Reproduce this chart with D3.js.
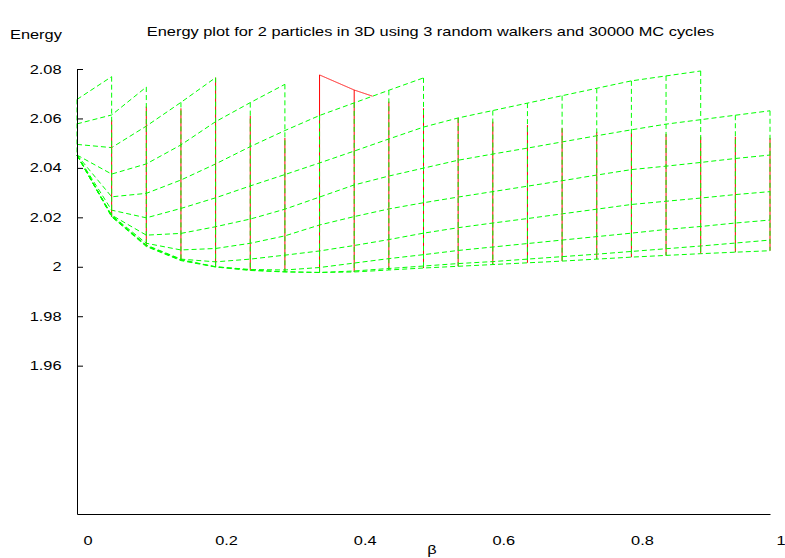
<!DOCTYPE html>
<html>
<head>
<meta charset="utf-8">
<script src="https://cdn.jsdelivr.net/npm/d3@7"></script>
<style>
  body { margin: 0; background: #fff; }
  svg { display: block; }
  text { font-family: "Liberation Sans", Arial, Helvetica, sans-serif; font-size: 13px; fill: #000; }
</style>
</head>
<body>
<svg id="chart" width="785" height="558"></svg>
<script>
// beta grid (x direction of the surface)
const betaValues = [0, 0.05, 0.1, 0.15, 0.2, 0.25, 0.3, 0.35, 0.4, 0.45, 0.5,
                    0.55, 0.6, 0.65, 0.7, 0.75, 0.8, 0.85, 0.9, 0.95, 1];

// energy along beta, one row per alpha value; null = above the plotted z range
const row1  = [2.0677, 2.0769, null, null, null, null, null, null, null, null, null,
               null, null, null, null, null, null, null, null, null, null];
const row2  = [2.0578, 2.0614, 2.0727, null, null, null, null, null, null, null, null,
               null, null, null, null, null, null, null, null, null, null];
const row3  = [2.0495, 2.0482, 2.0569, 2.0665, 2.0765, null, null, null, null, null, null,
               null, null, null, null, null, null, null, null, null, null];
const row4  = [2.0452, 2.0375, 2.0416, 2.0493, 2.0587, 2.0664, 2.0738, null, null, null, null,
               null, null, null, null, null, null, null, null, null, null];
const row5  = [2.0452, 2.0283, 2.0297, 2.0351, 2.0416, 2.0486, 2.0551, 2.0612, 2.0663, 2.0714, 2.0764,
               null, null, null, null, null, null, null, null, null, null];
const row6  = [2.0452, 2.0229, 2.0198, 2.0236, 2.0279, 2.0327, 2.0373, 2.0420, 2.0468, 2.0517, 2.0565,
               2.0602, 2.0632, 2.0662, 2.0692, 2.0722, 2.0752, 2.0772, 2.0792, null, null];
const row7  = [2.0452, 2.0209, 2.0128, 2.0135, 2.0162, 2.0193, 2.0233, 2.0282, 2.0331, 2.0367, 2.0399,
               2.0431, 2.0456, 2.0480, 2.0505, 2.0530, 2.0554, 2.0577, 2.0595, 2.0613, 2.0631];
const row8  = [2.0452, 2.0208, 2.0095, 2.0068, 2.0074, 2.0095, 2.0125, 2.0169, 2.0203, 2.0234, 2.0259,
               2.0282, 2.0304, 2.0326, 2.0348, 2.0371, 2.0393, 2.0407, 2.0422, 2.0438, 2.0452];
const row9  = [2.0452, 2.0207, 2.0088, 2.0031, 2.0020, 2.0031, 2.0047, 2.0064, 2.0086, 2.0110, 2.0136,
               2.0158, 2.0177, 2.0195, 2.0214, 2.0233, 2.0252, 2.0265, 2.0278, 2.0292, 2.0304];
const row10 = [2.0452, 2.0205, 2.0086, 2.0029, 2.0000, 1.9989, 1.9987, 1.9997, 2.0015, 2.0033, 2.0049,
               2.0066, 2.0080, 2.0094, 2.0108, 2.0122, 2.0136, 2.0151, 2.0163, 2.0177, 2.0189];
const row11 = [2.0452, 2.0203, 2.0084, 2.0027, 2.0000, 1.9987, 1.9980, 1.9977, 1.9983, 1.9993, 2.0003,
               2.0013, 2.0021, 2.0031, 2.0041, 2.0051, 2.0062, 2.0073, 2.0084, 2.0096, 2.0108];
const row12 = [2.0452, 2.0202, 2.0082, 2.0025, 1.9999, 1.9985, 1.9979, 1.9977, 1.9979, 1.9987, 1.9995,
               2.0002, 2.0009, 2.0016, 2.0023, 2.0031, 2.0039, 2.0046, 2.0053, 2.0059, 2.0065];
const surfaceRows = [row1, row2, row3, row4, row5, row6, row7, row8, row9, row10, row11, row12];

// upper-side surface line (solid) and the top of its cross lines at each beta
const upperRow  = [null, null, null, null, null, null, null, 2.0776, 2.0715, 2.0668, null,
                   null, null, null, null, null, null, null, null, null, null];
const upperEdge = [null, 2.0594, 2.0648, 2.0641, 2.0765, 2.0611, 2.0521, 2.0776, 2.0715, 2.0668, 2.0641,
                   2.0602, 2.0587, 2.0573, 2.0560, 2.0546, 2.0542, 2.0537, 2.0526, 2.0526, 2.0521];

// axis ticks
const energyTicks = [1.96, 1.98, 2.00, 2.02, 2.04, 2.06, 2.08];
const energyTickLabels = ["1.96", "1.98", "2", "2.02", "2.04", "2.06", "2.08"];
const betaTicks = [0, 0.2, 0.4, 0.6, 0.8, 1];
const betaTickLabels = ["0", "0.2", "0.4", "0.6", "0.8", "1"];

const titleText = "Energy plot for 2 particles in 3D using 3 random walkers and 30000 MC cycles";

// ---------------------------------------------------------------------------
const svg = d3.select("#chart");
const SX = 1.26;              // horizontal stretch of the label font
const zTop = 2.08, zBase = 1.90;

const x = d3.scaleLinear().domain([0, 1]).range([77, 770]);
const y = d3.scaleLinear().domain([zBase, zTop]).range([514, 69]);

const GREEN = "#00ff00", RED = "#ff0000", DASH = "5,3";

function stretchedText(g, str, px, py, anchor) {
  return g.append("text")
    .attr("transform", `translate(${px},${py}) scale(${SX},1)`)
    .attr("text-anchor", anchor)
    .text(str);
}

const plot = svg.append("g");

// column extents
const columns = betaValues.map((b, j) => {
  const vals = surfaceRows.map(r => r[j]).filter(v => v != null);
  const top = upperRow[j] != null ? upperRow[j] : upperEdge[j];
  return { b, lo: d3.min(vals), hi: d3.max(vals), top };
});

// solid cross lines (drawn beneath)
plot.append("g").selectAll("line")
  .data(columns.filter(c => c.top != null))
  .join("line")
  .attr("x1", c => x(c.b)).attr("x2", c => x(c.b))
  .attr("y1", c => y(c.lo)).attr("y2", c => y(c.top))
  .attr("stroke", RED).attr("stroke-width", 1);

// dashed cross lines
plot.append("g").selectAll("line")
  .data(columns)
  .join("line")
  .attr("x1", c => x(c.b)).attr("x2", c => x(c.b))
  .attr("y1", c => y(c.hi)).attr("y2", c => y(c.lo))
  .attr("stroke", GREEN).attr("stroke-width", 1)
  .attr("stroke-dasharray", DASH);

// dashed rows along beta
const line = d3.line()
  .defined(d => d.e != null)
  .x(d => x(d.b)).y(d => y(d.e));

plot.append("g").selectAll("path")
  .data(surfaceRows.map(r => r.map((e, j) => ({ b: betaValues[j], e }))))
  .join("path")
  .attr("d", line)
  .attr("fill", "none")
  .attr("stroke", GREEN).attr("stroke-width", 1)
  .attr("stroke-dasharray", DASH);

// solid upper row: only the parts lying above every dashed row are visible
function envelopeAt(j, t) {
  let best = -Infinity;
  surfaceRows.forEach(r => {
    if (r[j] != null && r[j + 1] != null) best = Math.max(best, r[j] + t * (r[j + 1] - r[j]));
  });
  return best;
}
const visibleParts = [];
for (let j = 0; j < betaValues.length - 1; j++) {
  const a = upperRow[j], b = upperRow[j + 1];
  if (a == null || b == null) continue;
  let cur = null;
  const N = 200;
  for (let k = 0; k <= N; k++) {
    const t = k / N;
    const e = a + t * (b - a);
    const bt = betaValues[j] + t * (betaValues[j + 1] - betaValues[j]);
    if (e >= envelopeAt(j, t)) {
      if (!cur) { cur = []; visibleParts.push(cur); }
      cur.push({ b: bt, e });
    } else cur = null;
  }
}
plot.append("g").selectAll("path")
  .data(visibleParts)
  .join("path")
  .attr("d", line)
  .attr("fill", "none")
  .attr("stroke", RED).attr("stroke-width", 1);

// axes
const axes = svg.append("g");
axes.append("g")
  .attr("transform", `translate(${x(0)},0)`)
  .call(d3.axisRight(y).tickValues(energyTicks).tickSize(6).tickSizeOuter(0).tickFormat(""))
  .call(g => g.selectAll("path,line").attr("stroke", "#000"));
axes.append("g")
  .attr("transform", `translate(0,${y(zBase)})`)
  .call(d3.axisBottom(x).tickValues([]).tickSizeOuter(0))
  .call(g => g.select("path").attr("stroke", "#000"));

energyTicks.forEach((v, i) => stretchedText(axes, energyTickLabels[i], 61.5, y(v) + 4.6, "end"));
betaTicks.forEach((v, i) => stretchedText(axes, betaTickLabels[i], x(v) + 11, 545, "middle"));

stretchedText(axes, "β", 432, 554, "middle");
stretchedText(axes, "Energy", 10, 39, "start");
stretchedText(axes, titleText, 430.5, 36, "middle");
</script>
</body>
</html>
